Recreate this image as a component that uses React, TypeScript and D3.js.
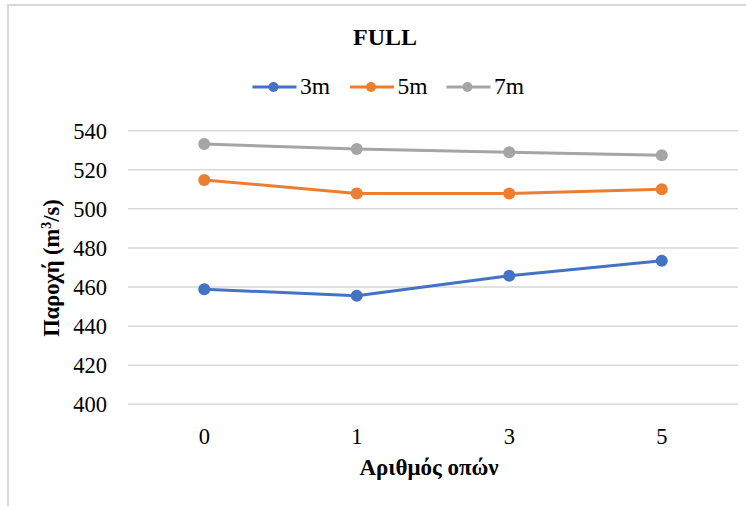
import React from "react";
import * as d3 from "d3";

// Number of openings (categories) and discharge per series
const categories = ["0", "1", "3", "5"];
const seriesNames = ["3m", "5m", "7m"];
const values3m = [458.9, 455.6, 465.8, 473.4];
const values5m = [514.8, 507.9, 507.9, 510.0];
const values7m = [533.2, 530.6, 529.0, 527.4];
const yTicks = [400, 420, 440, 460, 480, 500, 520, 540];
const colors = ["#4472C4", "#ED7D31", "#A5A5A5"];

const W = 746;
const H = 506;
const FONT = "Times New Roman, Liberation Serif, Tinos, DejaVu Serif, serif";

export default function App() {
  const x = d3.scaleBand<string>().domain(categories).range([128, 738]);
  const y = d3.scaleLinear().domain([400, 540]).range([404.3, 130.7]);
  const cx = (c: string) => (x(c) as number) + x.bandwidth() / 2;

  const series = [values3m, values5m, values7m];
  const line = d3
    .line<number>()
    .x((_, i) => cx(categories[i]))
    .y((v) => y(v));

  const legendX = [252.5, 350, 446.5];

  return (
    <div style={{ position: "absolute", left: 0, top: 0, fontFamily: FONT }}>
      <svg width={W} height={H} style={{ display: "block", background: "#fff", fontFamily: FONT }}>
        {/* chart frame */}
        <rect x={8} y={5} width={W + 10} height={H + 10} fill="#fff" stroke="#D9D9D9" strokeWidth={2} />

        {/* title */}
        <text x={385} y={45} textAnchor="middle" style={{ fontFamily: FONT }} fontWeight="bold" fontSize={24} fill="#000">
          FULL
        </text>

        {/* legend */}
        {seriesNames.map((name, i) => (
          <g key={name}>
            <line x1={legendX[i]} x2={legendX[i] + 44} y1={87} y2={87} stroke={colors[i]} strokeWidth={3} />
            <circle cx={legendX[i] + 21} cy={87} r={5} fill={colors[i]} />
            <text x={legendX[i] + 47.5} y={94} style={{ fontFamily: FONT }} fontSize={23.5} fill="#000">
              {name}
            </text>
          </g>
        ))}

        {/* gridlines and y tick labels */}
        {yTicks.map((t) => (
          <g key={t}>
            <line x1={128} x2={738} y1={y(t)} y2={y(t)} stroke="#D9D9D9" strokeWidth={1.5} />
            <text
              x={107}
              y={y(t)}
              dy="0.35em"
              textAnchor="end"
              style={{ fontFamily: FONT }}
              fontSize={22.5}
              fill="#000"
            >
              {t}
            </text>
          </g>
        ))}

        {/* x tick labels */}
        {categories.map((c) => (
          <text key={c} x={cx(c)} y={444} textAnchor="middle" style={{ fontFamily: FONT }} fontSize={22.5} fill="#000">
            {c}
          </text>
        ))}

        {/* axis titles */}
        <text x={429} y={475} textAnchor="middle" style={{ fontFamily: FONT }} fontWeight="bold" fontSize={23} fill="#000">
          Αριθμός οπών
        </text>
        <text
          transform="translate(59,268) rotate(-90)"
          textAnchor="middle"
          style={{ fontFamily: FONT }}
          fontWeight="bold"
          fontSize={22.5}
          fill="#000"
        >
          Παροχή (m
          <tspan dy={-8} fontSize={14}>3</tspan>
          <tspan dy={8}>/s)</tspan>
        </text>

        {/* series lines and markers */}
        {series.map((vals, i) => (
          <g key={seriesNames[i]}>
            <path d={line(vals) || ""} fill="none" stroke={colors[i]} strokeWidth={3} strokeLinejoin="round" />
            {vals.map((v, j) => (
              <circle key={j} cx={cx(categories[j])} cy={y(v)} r={6} fill={colors[i]} />
            ))}
          </g>
        ))}
      </svg>
    </div>
  );
}
